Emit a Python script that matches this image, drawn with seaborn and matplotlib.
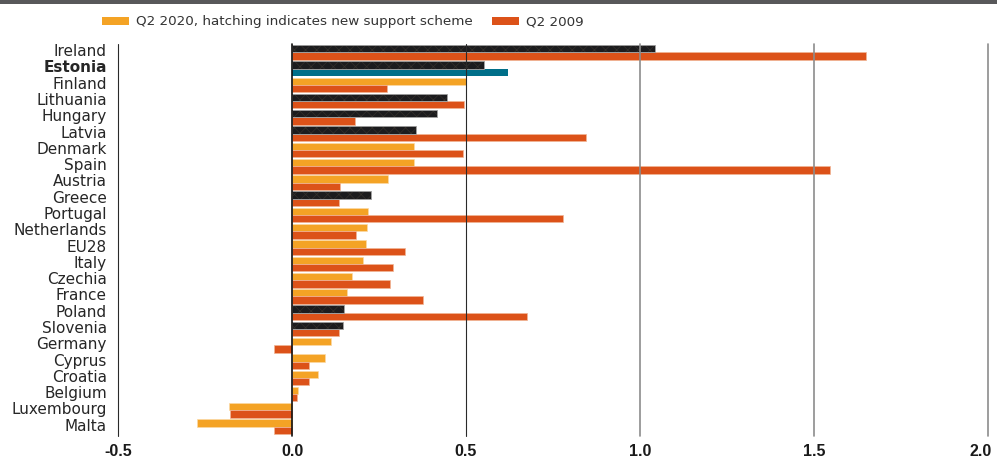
import matplotlib
matplotlib.use("Agg")
import matplotlib.pyplot as plt
import matplotlib.transforms as mtransforms
from matplotlib.patches import Patch, Rectangle
import pandas as pd
import seaborn as sns

# ---- data -------------------------------------------------------------
countries = ["Ireland", "Estonia", "Finland", "Lithuania", "Hungary", "Latvia",
             "Denmark", "Spain", "Austria", "Greece", "Portugal", "Netherlands",
             "EU28", "Italy", "Czechia", "France", "Poland", "Slovenia",
             "Germany", "Cyprus", "Croatia", "Belgium", "Luxembourg", "Malta"]
q2_2020 = [1.043, 0.552, 0.500, 0.445, 0.417, 0.357, 0.352, 0.352, 0.277, 0.227,
           0.218, 0.215, 0.212, 0.204, 0.172, 0.158, 0.149, 0.147, 0.112, 0.095,
           0.074, 0.018, -0.181, -0.274]
q2_2009 = [1.650, 0.621, 0.273, 0.494, 0.181, 0.845, 0.491, 1.545, 0.138, 0.135,
           0.780, 0.184, 0.325, 0.290, 0.282, 0.376, 0.675, 0.135, -0.052, 0.049,
           0.049, 0.014, -0.178, -0.052]
new_scheme = ["Ireland", "Estonia", "Lithuania", "Hungary", "Latvia", "Greece",
              "Poland", "Slovenia"]
highlight = "Estonia"
series = ["Q2 2020, hatching indicates new support scheme", "Q2 2009"]
x_ticks = [-0.5, 0.0, 0.5, 1.0, 1.5, 2.0]
x_tick_labels = ["-0.5", "0.0", "0.5", "1.0", "1.5", "2.0"]

# ---- styling ------------------------------------------------------------
ORANGE = "#f4a325"
RED = "#dc5219"
TEAL = "#006f89"
DARK = "#1c1c1e"
HATCH = "#34302b"

sns.set_theme(style="white")
plt.rcParams["font.family"] = ["DejaVu Sans"]
plt.rcParams["hatch.linewidth"] = 0.5

df = pd.DataFrame({
    "country": countries * 2,
    "period": [series[0]] * len(countries) + [series[1]] * len(countries),
    "value": q2_2020 + q2_2009,
})

fig = plt.figure(figsize=(9.97, 4.58), dpi=100)
W, H = 997, 458
ax = fig.add_axes([118 / W, 1 - 436 / H, (988 - 118) / W, (436 - 44) / H])

sns.barplot(data=df, x="value", y="country", hue="period", hue_order=series,
            order=countries, palette={series[0]: ORANGE, series[1]: RED},
            orient="h", width=0.9, saturation=1, errorbar=None, legend=False,
            ax=ax)

bars_2020, bars_2009 = ax.containers[0], ax.containers[1]
for name, p in zip(countries, bars_2020):
    if name in new_scheme:
        p.set_facecolor(DARK)
        p.set_hatch("xxx")
        p.set_edgecolor(HATCH)
        p.set_linewidth(0)
        outline = Rectangle((p.get_x(), p.get_y()), p.get_width(), p.get_height(),
                            fill=False, edgecolor="#9c9c9c", linewidth=0.7,
                            zorder=p.get_zorder() + 0.1)
        ax.add_patch(outline)
    else:
        p.set_edgecolor("#fbd9a6")
        p.set_linewidth(0.5)
for name, p in zip(countries, bars_2009):
    if name == highlight:
        p.set_facecolor(TEAL)
        p.set_edgecolor(TEAL)
        p.set_linewidth(0)
    else:
        p.set_edgecolor("#f1b596")
        p.set_linewidth(0.5)

ax.set_xlim(-0.5, 2.0)
ax.set_ylim(23.57, -0.51)

# vertical reference lines
line_styles = {-0.5: ("#2a2a2a", 0.8), 0.5: ("#2a2a2a", 0.8),
               1.0: ("#8c8c8c", 1.2), 1.5: ("#8c8c8c", 1.2), 2.0: ("#8c8c8c", 1.2)}
for xv, (c, lw) in line_styles.items():
    ax.axvline(xv, color=c, linewidth=lw, zorder=5, clip_on=False)
ax.axvline(0.0, color="#111111", linewidth=1.2, zorder=6, clip_on=False)

for s in ax.spines.values():
    s.set_visible(False)

ax.set_xlabel("")
ax.set_ylabel("")
ax.set_xticks(x_ticks)
ax.set_xticklabels(x_tick_labels, fontfamily="Liberation Sans", fontweight="bold",
                   fontsize=11.5, color="#1a1a1a")
ax.tick_params(axis="x", length=0, pad=6)
ax.tick_params(axis="y", length=0, pad=8)

# keep the last x label inside the figure
last = ax.get_xticklabels()[-1]
last.set_transform(last.get_transform() +
                   mtransforms.ScaledTranslation(-7 / 100, 0, fig.dpi_scale_trans))

offset = mtransforms.ScaledTranslation(0, 1.5 / 72, fig.dpi_scale_trans)
for lbl in ax.get_yticklabels():
    lbl.set_fontsize(11)
    lbl.set_color("#262626")
    if lbl.get_text() == highlight:
        lbl.set_fontweight("bold")
    lbl.set_transform(lbl.get_transform() + offset)

# legend
handles = [Patch(facecolor=ORANGE, edgecolor="none"), Patch(facecolor=RED, edgecolor="none")]
fig.legend(handles, series, loc="center left", bbox_to_anchor=(102 / W, 1 - 22 / H),
           ncol=2, frameon=False, fontsize=9.7, handlelength=2.0, handleheight=0.5,
           handletextpad=0.5, columnspacing=1.45, borderpad=0, borderaxespad=0,
           labelcolor="#333333")

# dark band along the top edge
fig.add_artist(Rectangle((0, 1 - 4 / H), 1, 4 / H, transform=fig.transFigure,
                         facecolor="#58585a", edgecolor="none"))

fig.savefig("out.png", dpi=100)
